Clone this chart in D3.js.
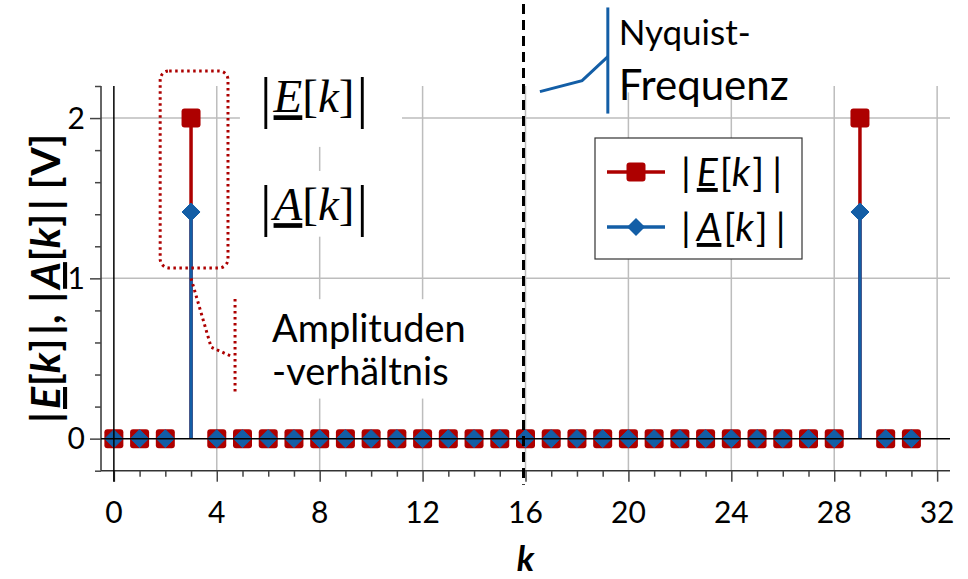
<!DOCTYPE html>
<html>
<head>
<meta charset="utf-8">
<script src="https://cdn.jsdelivr.net/npm/d3@7"></script>
<style>
  body { margin: 0; background: #fff; }
  svg { display: block; }
</style>
</head>
<body>
<div id="chart"></div>
<script>
// DFT-Beträge |E[k]| und |A[k]|, k = 0..31
const kValues = d3.range(0, 32)
const eValues = [0, 0, 0, 2, 0, 0, 0, 0, 0, 0, 0, 0, 0, 0, 0, 0,
                 0, 0, 0, 0, 0, 0, 0, 0, 0, 0, 0, 0, 0, 2, 0, 0]
const aValues = [0, 0, 0, 1.414, 0, 0, 0, 0, 0, 0, 0, 0, 0, 0, 0, 0,
                 0, 0, 0, 0, 0, 0, 0, 0, 0, 0, 0, 0, 0, 1.414, 0, 0]
const xTickLabels = [0, 4, 8, 12, 16, 20, 24, 28, 32]
const yTickLabels = [0, 1, 2]
const nyquistK = 16

const red = "#ad0000"
const blue = "#135ea6"
const font = "Lato, 'Open Sans', sans-serif"

const W = 968, H = 579
const svg = d3.select("#chart").append("svg")
    .attr("width", W)
    .attr("height", H)

const x = d3.scaleLinear().domain([-0.5, 32.5]).range([101, 950])
const y = d3.scaleLinear().domain([-0.2, 2.2]).range([470.7, 86])

// grid
svg.append("g")
    .selectAll("line")
    .data(xTickLabels.filter(d => d !== 0))
    .enter().append("line")
    .attr("x1", d => x(d)).attr("x2", d => x(d))
    .attr("y1", y(2.2)).attr("y2", y(-0.2))
    .attr("stroke", "#bdbdbd").attr("stroke-width", 1.5)
svg.append("g")
    .selectAll("line")
    .data(yTickLabels.filter(d => d !== 0))
    .enter().append("line")
    .attr("x1", x(-0.5)).attr("x2", x(32.5))
    .attr("y1", d => y(d)).attr("y2", d => y(d))
    .attr("stroke", "#bdbdbd").attr("stroke-width", 1.5)

// white boxes behind the annotations (they hide the grid)
function whiteBox(x0, x1, y0, y1){
    svg.append("rect")
        .attr("x", x(x0)).attr("y", y(y0))
        .attr("width", x(x1) - x(x0)).attr("height", y(y1) - y(y0))
        .attr("fill", "#fff")
}
whiteBox(4.9, 11.2, 2.2, 1.82)   // |E[k]|
whiteBox(4.9, 11.2, 1.67, 1.26)  // |A[k]|
whiteBox(6.0, 15.2, 0.87, 0.25)  // Amplituden-verhältnis
whiteBox(19.3, 26.5, 2.2, 2.16)  // Nyquist-Frequenz

// axes (spines + ticks)
const xAxis = d3.axisBottom(x)
    .tickValues(kValues.concat([32]))
    .tickSize(6).tickFormat("")
const xg = svg.append("g").attr("transform", `translate(0,${y(-0.2)})`).call(xAxis)
xg.selectAll(".tick line").filter(d => d % 4 === 0).attr("y2", 11)
xg.select(".domain").attr("d", `M${x(-0.5)},0H${x(32.5)}`)

const yAxis = d3.axisLeft(y)
    .tickValues(d3.range(0, 13).map(i => -0.2 + i * 0.2))
    .tickSize(6).tickFormat("")
const yg = svg.append("g").attr("transform", `translate(${x(-0.5)},0)`).call(yAxis)
yg.selectAll(".tick line").filter(d => Math.abs(d - Math.round(d)) < 1e-6).attr("x2", -11)
yg.select(".domain").attr("d", `M0,${y(2.2)}V${y(-0.2)}`)
svg.selectAll(".domain").attr("stroke", "#333").attr("stroke-width", 1.5)
svg.selectAll(".tick line").attr("stroke", "#444").attr("stroke-width", 1.5)

svg.append("g")
    .selectAll("text")
    .data(xTickLabels)
    .enter().append("text")
    .attr("x", d => x(d)).attr("y", y(-0.2) + 52)
    .attr("text-anchor", "middle")
    .attr("font-family", font).attr("font-size", 30)
    .text(d => d)
svg.append("g")
    .selectAll("text")
    .data(yTickLabels)
    .enter().append("text")
    .attr("x", x(-0.5) - 16).attr("y", d => y(d))
    .attr("dy", "0.36em")
    .attr("text-anchor", "end")
    .attr("font-family", font).attr("font-size", 30)
    .text(d => d)

// stems
const series = [
    {name: "E", values: eValues, color: red},
    {name: "A", values: aValues, color: blue}
]
series.forEach(s => {
    svg.append("g")
        .selectAll("line")
        .data(kValues.filter(k => s.values[k] !== 0))
        .enter().append("line")
        .attr("x1", k => x(k)).attr("x2", k => x(k))
        .attr("y1", y(0)).attr("y2", k => y(s.values[k]))
        .attr("stroke", s.color).attr("stroke-width", 3.5)
})

// markers
svg.append("g")
    .selectAll("rect")
    .data(kValues)
    .enter().append("rect")
    .attr("x", k => x(k) - 9.5).attr("y", k => y(eValues[k]) - 9.5)
    .attr("width", 19).attr("height", 19)
    .attr("rx", 3)
    .attr("fill", red)
const diamond = "M0,-9L9,0L0,9L-9,0Z"
svg.append("g")
    .selectAll("path")
    .data(kValues)
    .enter().append("path")
    .attr("transform", k => `translate(${x(k)},${y(aValues[k])})`)
    .attr("d", diamond)
    .attr("fill", blue)
    .attr("stroke", blue).attr("stroke-width", 1).attr("stroke-linejoin", "round")

// zero lines
svg.append("line")
    .attr("x1", x(-0.5)).attr("x2", x(32.5))
    .attr("y1", y(0)).attr("y2", y(0))
    .attr("stroke", "#000").attr("stroke-width", 1.5)
svg.append("line")
    .attr("x1", x(0)).attr("x2", x(0))
    .attr("y1", y(2.2)).attr("y2", y(-0.2) + 11)
    .attr("stroke", "#000").attr("stroke-width", 1.5)

// Nyquist line
svg.append("line")
    .attr("x1", x(nyquistK) - 2).attr("x2", x(nyquistK) - 2)
    .attr("y1", 4).attr("y2", y(-0.2) + 14)
    .attr("stroke", "#000").attr("stroke-width", 3)
    .attr("stroke-dasharray", "10,6")

// Nyquist annotation
const nyqLeader = [[16.56, 2.165], [18.2, 2.233], [19.2, 2.383]]
svg.append("path")
    .attr("d", d3.line().x(d => x(d[0])).y(d => y(d[1]))(nyqLeader))
    .attr("fill", "none").attr("stroke", blue).attr("stroke-width", 3)
svg.append("line")
    .attr("x1", x(19.2)).attr("x2", x(19.2))
    .attr("y1", y(2.69)).attr("y2", y(2.028))
    .attr("stroke", blue).attr("stroke-width", 3)
svg.append("text")
    .attr("x", x(19.62)).attr("y", y(2.456))
    .attr("font-family", font).attr("font-size", 35)
    .text("Nyquist-")
svg.append("text")
    .attr("x", x(19.62)).attr("y", y(2.113))
    .attr("font-family", font).attr("font-size", 42)
    .text("Frequenz")

// dotted box around k = 3 and leader to "Amplitudenverhältnis"
const dotted = {stroke: red, width: 3, dash: "2.5,3.5"}
svg.append("rect")
    .attr("x", x(1.8)).attr("y", y(2.294))
    .attr("width", x(4.436) - x(1.8)).attr("height", y(1.065) - y(2.294))
    .attr("rx", 9)
    .attr("fill", "none").attr("stroke", dotted.stroke)
    .attr("stroke-width", dotted.width).attr("stroke-dasharray", dotted.dash)
const ampLeader = [[3, 1.0], [3.78, 0.571], [4.63, 0.509]]
svg.append("path")
    .attr("d", d3.line().x(d => x(d[0])).y(d => y(d[1]))(ampLeader))
    .attr("fill", "none").attr("stroke", dotted.stroke)
    .attr("stroke-width", dotted.width).attr("stroke-dasharray", dotted.dash)
svg.append("line")
    .attr("x1", x(4.71)).attr("x2", x(4.71))
    .attr("y1", y(0.871)).attr("y2", y(0.272))
    .attr("stroke", dotted.stroke)
    .attr("stroke-width", dotted.width).attr("stroke-dasharray", dotted.dash)
svg.append("text")
    .attr("x", x(6.15)).attr("y", y(0.605))
    .attr("font-family", font).attr("font-size", 38)
    .text("Amplituden")
svg.append("text")
    .attr("x", x(6.15)).attr("y", y(0.335))
    .attr("font-family", font).attr("font-size", 38)
    .text("-verhältnis")

// math labels |E[k]| and |A[k]|
function mathLabel(sel, letter){
    sel.append("tspan").attr("font-size", 58).attr("dy", 5).text("|")
    sel.append("tspan").attr("dy", -5).attr("dx", 2).attr("font-style", "italic")
        .attr("text-decoration", "underline").text(letter)
    sel.append("tspan").text("[")
    sel.append("tspan").attr("font-style", "italic").text("k")
    sel.append("tspan").text("]")
    sel.append("tspan").attr("font-size", 58).attr("dy", 5).attr("dx", 2).text("|")
}
svg.append("text")
    .attr("x", x(7.78)).attr("y", y(2.036))
    .attr("text-anchor", "middle")
    .attr("font-family", "'Liberation Serif', 'DejaVu Serif', serif")
    .attr("font-size", 47)
    .call(mathLabel, "E")
svg.append("text")
    .attr("x", x(7.78)).attr("y", y(1.363))
    .attr("text-anchor", "middle")
    .attr("font-family", "'Liberation Serif', 'DejaVu Serif', serif")
    .attr("font-size", 47)
    .call(mathLabel, "A")

// legend
function sansLabel(sel, letter){
    sel.append("tspan").text("|")
    sel.append("tspan").attr("dx", 6).attr("font-style", "italic")
        .attr("text-decoration", "underline").text(letter)
    sel.append("tspan").attr("dx", 2).text("[")
    sel.append("tspan").attr("font-style", "italic").text("k")
    sel.append("tspan").attr("dx", 2).text("]")
    sel.append("tspan").attr("dx", 8).text("|")
}
const legend = svg.append("g").attr("transform", "translate(595,138)")
legend.append("rect")
    .attr("width", 207).attr("height", 121)
    .attr("fill", "#fff").attr("stroke", "#333").attr("stroke-width", 1.2)
series.forEach((s, i) => {
    const ly = 34 + i * 55
    legend.append("line")
        .attr("x1", 12).attr("x2", 70).attr("y1", ly).attr("y2", ly)
        .attr("stroke", s.color).attr("stroke-width", 3.5)
    if (s.name === "E") {
        legend.append("rect")
            .attr("x", 41 - 9.5).attr("y", ly - 9.5)
            .attr("width", 19).attr("height", 19).attr("rx", 3)
            .attr("fill", s.color)
    } else {
        legend.append("path")
            .attr("transform", `translate(41,${ly})`)
            .attr("d", diamond).attr("fill", s.color)
    }
    legend.append("text")
        .attr("x", 86).attr("y", ly + 14)
        .attr("font-family", font).attr("font-size", 39)
        .call(sansLabel, s.name)
})

// axis titles
const yTitle = svg.append("text")
    .attr("transform", `translate(60,${y(1.0)}) rotate(-90)`)
    .attr("text-anchor", "middle")
    .attr("font-family", font).attr("font-size", 41).attr("font-weight", "bold")
    .attr("xml:space", "preserve")
yTitle.append("tspan").text("|")
yTitle.append("tspan").attr("dx", 3).attr("font-style", "italic").attr("text-decoration", "underline").text("E")
yTitle.append("tspan").attr("dx", 1).text("[")
yTitle.append("tspan").attr("font-style", "italic").text("k")
yTitle.append("tspan").attr("dx", 1).text("]")
yTitle.append("tspan").attr("dx", 4).text("|, ")
yTitle.append("tspan").attr("dx", 2).text("|")
yTitle.append("tspan").attr("dx", 3).attr("font-style", "italic").attr("text-decoration", "underline").text("A")
yTitle.append("tspan").attr("dx", 1).text("[")
yTitle.append("tspan").attr("font-style", "italic").text("k")
yTitle.append("tspan").attr("dx", 1).text("]")
yTitle.append("tspan").attr("dx", 4).text("| [V]")

svg.append("text")
    .attr("x", x(nyquistK)).attr("y", 571)
    .attr("text-anchor", "middle")
    .attr("font-family", font).attr("font-size", 35)
    .attr("font-weight", "bold").attr("font-style", "italic")
    .text("k")
</script>
</body>
</html>
